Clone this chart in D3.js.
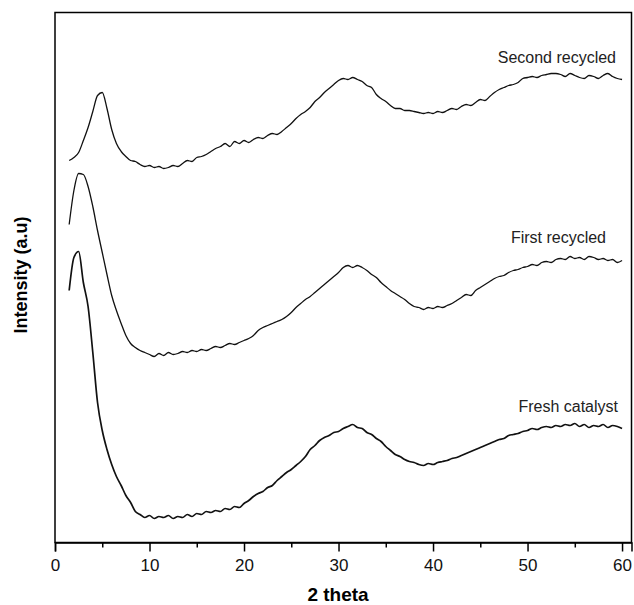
<!DOCTYPE html>
<html>
<head>
<meta charset="utf-8">
<script src="https://cdn.jsdelivr.net/npm/d3@7"></script>
<style>
  body { margin: 0; background: #fff; }
  svg { display: block; font-family: "Liberation Sans", Arial, sans-serif; }
</style>
</head>
<body>
<div id="chart"></div>
<script>
// 2 theta sampling grid (deg)
const theta = [
  1.5, 2.0, 2.5, 3.0, 3.5, 4.0, 4.5, 5.0, 5.5, 6.0,
  6.5, 7.0, 7.5, 8.0, 8.5, 9.0, 9.5, 10.0, 10.5, 11.0,
  11.5, 12.0, 12.5, 13.0, 13.5, 14.0, 14.5, 15.0, 15.5, 16.0,
  16.5, 17.0, 17.5, 18.0, 18.5, 19.0, 19.5, 20.0, 20.5, 21.0,
  21.5, 22.0, 22.5, 23.0, 23.5, 24.0, 24.5, 25.0, 25.5, 26.0,
  26.5, 27.0, 27.5, 28.0, 28.5, 29.0, 29.5, 30.0, 30.5, 31.0,
  31.5, 32.0, 32.5, 33.0, 33.5, 34.0, 34.5, 35.0, 35.5, 36.0,
  36.5, 37.0, 37.5, 38.0, 38.5, 39.0, 39.5, 40.0, 40.5, 41.0,
  41.5, 42.0, 42.5, 43.0, 43.5, 44.0, 44.5, 45.0, 45.5, 46.0,
  46.5, 47.0, 47.5, 48.0, 48.5, 49.0, 49.5, 50.0, 50.5, 51.0,
  51.5, 52.0, 52.5, 53.0, 53.5, 54.0, 54.5, 55.0, 55.5, 56.0,
  56.5, 57.0, 57.5, 58.0, 58.5, 59.0, 59.5, 60.0
];

// intensities (a.u., already offset per pattern as in the figure)
const secondRecycled = [
  382, 385, 390, 402, 415, 431, 447, 450, 434, 413,
  399, 391, 386, 382, 381, 378, 376, 377, 375, 376,
  374, 375, 377, 376, 379, 382, 381, 385, 386, 388,
  391, 394, 396, 399, 396, 401, 399, 402, 400, 403,
  405, 404, 407, 409, 408, 411, 415, 419, 424, 428,
  431, 435, 441, 445, 450, 454, 458, 462, 464, 463,
  465, 463, 461, 457, 455, 448, 444, 441, 437, 434,
  434, 432, 432, 431, 430, 429, 430, 429, 431, 430,
  432, 434, 433, 436, 438, 437, 440, 443, 442, 446,
  450, 453, 455, 457, 458, 460, 464, 465, 466, 465,
  467, 468, 469, 469, 468, 466, 469, 467, 465, 464,
  467, 466, 464, 467, 469, 466, 464, 463
];

const firstRecycled = [
  318, 352, 369, 368, 356, 336, 312, 290, 268, 247,
  232, 219, 207, 199, 195, 192, 190, 188, 186, 189,
  187, 190, 188, 189, 191, 190, 192, 191, 193, 192,
  194, 196, 195, 197, 199, 198, 200, 202, 204, 207,
  212, 215, 217, 219, 221, 223, 226, 230, 235, 239,
  243, 246, 250, 254, 258, 262, 266, 270, 275, 277,
  275, 277, 275, 272, 268, 265, 260, 256, 252, 249,
  246, 243, 239, 236, 235, 233, 235, 234, 236, 235,
  237, 239, 242, 245, 248, 247, 252, 255, 258, 261,
  264, 266, 267, 270, 272, 273, 275, 276, 278, 277,
  280, 281, 280, 283, 284, 283, 286, 284, 285, 283,
  286, 285, 283, 284, 282, 283, 280, 282
];

const freshCatalyst = [
  252, 285, 291, 260, 236, 190, 140, 112, 93, 78,
  66, 57, 47, 40, 31, 28, 25, 27, 24, 26,
  25, 27, 24, 26, 25, 28, 26, 29, 28, 31,
  30, 32, 31, 34, 33, 36, 35, 39, 42, 46,
  49, 51, 55, 57, 62, 66, 70, 73, 77, 81,
  86, 93, 97, 102, 105, 107, 110, 111, 114, 116,
  118, 115, 114, 110, 108, 104, 101, 96, 92, 88,
  86, 83, 81, 80, 78, 77, 79, 78, 80, 81,
  82, 84, 85, 87, 89, 91, 93, 95, 97, 99,
  101, 103, 104, 107, 108, 109, 111, 112, 114, 113,
  115, 116, 115, 117, 116, 118, 117, 119, 116, 118,
  115, 117, 116, 118, 115, 117, 116, 114
];

const seriesNames = ['Second recycled', 'First recycled', 'Fresh catalyst'];
const xTicks = [0, 10, 20, 30, 40, 50, 60];
const xMinorTicks = [5, 15, 25, 35, 45, 55];

const width = 634, height = 605;
const plot = { left: 55, right: 631.5, top: 12.5, bottom: 542.5 };

let svg = d3.select('#chart')
  .append('svg')
    .attr('width', width)
    .attr('height', height);

let x = d3.scaleLinear().domain([0, 61]).range([plot.left, plot.right]);
let y = d3.scaleLinear().domain([0, 530]).range([plot.bottom, plot.top]);

// frame
svg.append('rect')
  .attr('x', plot.left)
  .attr('y', plot.top)
  .attr('width', plot.right - plot.left)
  .attr('height', plot.bottom - plot.top)
  .attr('fill', 'none')
  .attr('stroke', '#000')
  .attr('stroke-width', 1.5);

// minor ticks
svg.append('g')
  .attr('transform', `translate(0,${plot.bottom})`)
  .call(d3.axisBottom(x).tickValues(xMinorTicks).tickSize(5).tickFormat(''))
  .call(g => g.select('.domain').remove())
  .selectAll('line').attr('stroke-width', 1.5);

// major ticks + labels
let xAxis = svg.append('g')
  .attr('transform', `translate(0,${plot.bottom})`)
  .call(d3.axisBottom(x).tickValues(xTicks).tickSize(9).tickPadding(7).tickFormat(d3.format('d')));

xAxis.select('.domain').attr('stroke-width', 1.5);
xAxis.selectAll('line').attr('stroke-width', 1.5);
xAxis.selectAll('text')
  .style('font-family', '"Liberation Sans", Arial, sans-serif')
  .style('font-size', '17px')
  .attr('fill', '#111');

// axis titles
svg.append('text')
  .attr('x', 338)
  .attr('y', 601)
  .attr('text-anchor', 'middle')
  .style('font-size', '19px')
  .style('font-weight', 'bold')
  .text('2 theta');

svg.append('text')
  .attr('transform', 'translate(27,275) rotate(-90)')
  .attr('text-anchor', 'middle')
  .style('font-size', '18px')
  .style('font-weight', 'bold')
  .text('Intensity (a.u)');

// patterns
let line = d3.line()
  .curve(d3.curveMonotoneX)
  .x(function(d) { return x(d[0]) })
  .y(function(d) { return y(d[1]) });

let patterns = [secondRecycled, firstRecycled, freshCatalyst];
let widths = [1.3, 1.3, 1.7];

patterns.forEach(function(vals, i) {
  svg.append('path')
    .datum(theta.map(function(t, j) { return [t, vals[j]] }))
    .attr('fill', 'none')
    .attr('stroke', '#111')
    .attr('stroke-width', widths[i])
    .attr('stroke-linejoin', 'round')
    .attr('d', line);
});

// curve labels
let labelPos = [[616, 63], [606, 243], [618, 412]];
svg.selectAll('.label')
  .data(seriesNames)
  .enter()
  .append('text')
  .attr('class', 'label')
  .attr('x', function(d, i) { return labelPos[i][0] })
  .attr('y', function(d, i) { return labelPos[i][1] })
  .attr('text-anchor', 'end')
  .style('font-size', '16px')
  .attr('fill', '#222')
  .text(function(d) { return d });
</script>
</body>
</html>
